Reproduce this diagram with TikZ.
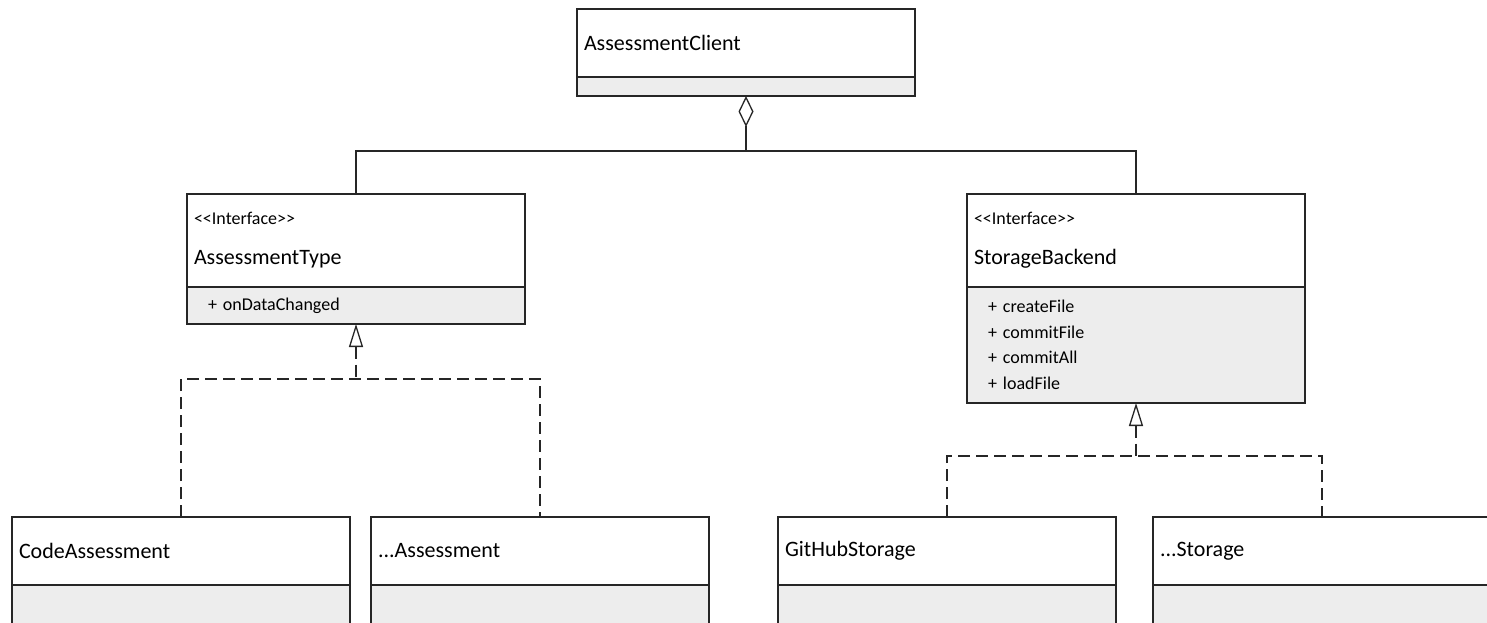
\documentclass[tikz,border=0pt]{standalone}
\usepackage{fontspec}
\setmainfont{Carlito}
\usetikzlibrary{arrows.meta, positioning}

\begin{document}
\begin{tikzpicture}[x=1pt, y=-1pt,
    box/.style={draw=black!85, line width=1.5pt, anchor=north west, minimum width=338pt, inner ysep=0pt, outer sep=0pt},
    title/.style={box, minimum height=68pt, text width=324pt, inner xsep=7pt, align=left, font=\fontsize{22}{26}\selectfont},
    ops/.style={box, fill=gray!14, text width=296pt, inner xsep=21pt, align=left, font=\fontsize{18}{25.5}\selectfont},
    conn/.style={draw=black!85, line width=1.3pt},
    aggr/.style={{Diamond[open, fill=white, length=31pt, width=15pt]}-},
    realize/.style={{Triangle[open, fill=white, length=23pt, width=14pt]}-},
    dashes/.style={dash pattern=on 12pt off 6pt}]

    \useasboundingbox (0,0) rectangle (1487,623);
    \clip (0,0) rectangle (1487,623);

    %--- client on top
    \node[title] (client) at (577,9) {AssessmentClient};
    \node[ops, minimum height=19pt, below right=0pt and 0pt of client.south west] (client-ops) {};

    %--- the two interfaces
    \node[title, minimum height=93pt] (atype) at (187,194)
        {{\fontsize{18}{20}\selectfont <{}<Interface>{}>}\\[14pt]AssessmentType};
    \node[ops, minimum height=37pt, below right=0pt and 0pt of atype.south west] (atype-ops)
        {+ onDataChanged};

    \node[title, minimum height=93pt] (storage) at (967,194)
        {{\fontsize{18}{20}\selectfont <{}<Interface>{}>}\\[14pt]StorageBackend};
    \node[ops, minimum height=116pt, below right=0pt and 0pt of storage.south west] (storage-ops)
        {+ createFile\\ + commitFile\\ + commitAll\\ + loadFile};

    %--- implementations (cut off at the bottom)
    \node[title] (code) at (12,517) {CodeAssessment};
    \node[ops, minimum height=60pt, below right=0pt and 0pt of code.south west] (code-ops) {};
    \node[title] (otherassess) at (371,517) {...Assessment};
    \node[ops, minimum height=60pt, below right=0pt and 0pt of otherassess.south west] (otherassess-ops) {};

    \node[title] (github) at (778,517) {GitHubStorage};
    \node[ops, minimum height=60pt, below right=0pt and 0pt of github.south west] (github-ops) {};
    \node[title] (otherstore) at (1153,517) {...Storage};
    \node[ops, minimum height=60pt, below right=0pt and 0pt of otherstore.south west] (otherstore-ops) {};

    %--- aggregation
    \draw[conn, aggr] (client-ops.south) -- ++(0,55) coordinate (hub) -| (atype.north);
    \draw[conn] (hub) -| (storage.north);

    %--- realizations
    \draw[conn, dashes, realize] (atype-ops.south) -- ++(0,55) coordinate (abus);
    \draw[conn, dashes] (code.north) |- (abus) -| (otherassess.north);

    \draw[conn, dashes, realize] (storage-ops.south) -- ++(0,53) coordinate (sbus);
    \draw[conn, dashes] (github.north) |- (sbus) -| (otherstore.north);
\end{tikzpicture}
\end{document}
